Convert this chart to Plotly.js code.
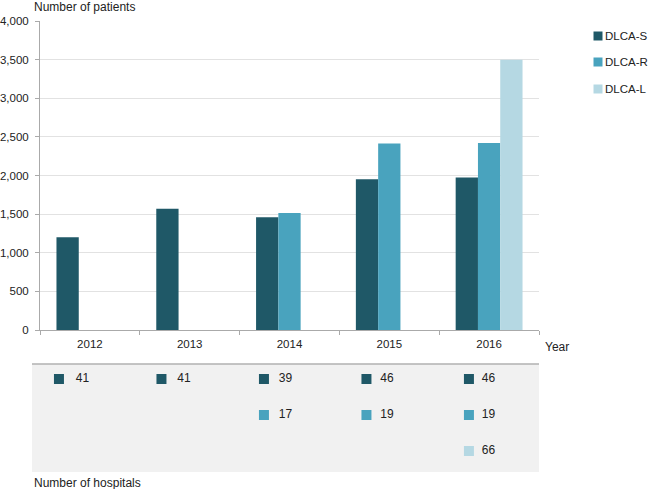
<!DOCTYPE html>
<html>
<head>
<meta charset="utf-8">
<script src="https://cdn.plot.ly/plotly-3.0.1.min.js"></script>
<style>html,body{margin:0;padding:0;background:#fff;}#chart{width:649px;height:489px;}</style>
</head>
<body>
<div id="chart"></div>
<script>
var years = ["2012", "2013", "2014", "2015", "2016"];
var seriesNames = ["DLCA-S", "DLCA-R", "DLCA-L"];
var patientsS = [1200, 1570, 1460, 1950, 1975];
var patientsR = [null, null, 1515, 2415, 2420];
var patientsL = [null, null, null, null, 3500];
var hospitalsS = [41, 41, 39, 46, 46];
var hospitalsR = [null, null, 17, 19, 19];
var hospitalsL = [null, null, null, null, 66];
var yTicks = [0, 500, 1000, 1500, 2000, 2500, 3000, 3500, 4000];

var colors = ["#1f5867", "#49a3be", "#b5d8e3"];
var FONT = "Liberation Sans, Arial, Helvetica, sans-serif";
var TXT = "#222222";

var patients = [patientsS, patientsR, patientsL];
var hospitals = [hospitalsS, hospitalsR, hospitalsL];

var traces = [];
for (var s = 0; s < 3; s++) {
  traces.push({
    type: "bar", name: seriesNames[s], x: years, y: patients[s],
    marker: {color: colors[s], line: {width: 0}},
    showlegend: false, hoverinfo: "x+y+name"
  });
}
// Table of hospitals
for (var s2 = 0; s2 < 3; s2++) {
  var mx = [], my = [], tx = [], tt = [];
  for (var i = 0; i < years.length; i++) {
    var v = hospitals[s2][i];
    if (v === null) continue;
    mx.push(i - 0.31 + 0.027 * i);
    my.push(s2 + 1);
    tx.push(i - 0.075 + 0.017 * i);
    tt.push(String(v));
  }
  traces.push({
    type: "scatter", mode: "markers", x: mx, y: my, xaxis: "x2", yaxis: "y2",
    marker: {symbol: "square", size: 10, color: colors[s2]},
    showlegend: false, hoverinfo: "skip", cliponaxis: false
  });
  traces.push({
    type: "scatter", mode: "text", x: tx, y: my, text: tt, xaxis: "x2", yaxis: "y2",
    textposition: "middle center", textfont: {family: FONT, size: 12, color: TXT},
    showlegend: false, hoverinfo: "skip", cliponaxis: false
  });
}

var H = 489, T = 21, PH = H - T;
function py(px) { return (H - px) / PH; }

var shapes = [
  {type: "rect", xref: "paper", yref: "paper", x0: -0.016, x1: 1, y0: py(472), y1: py(364),
   fillcolor: "#f1f1f1", line: {width: 0}, layer: "below"},
  {type: "line", xref: "paper", yref: "paper", x0: -0.016, x1: 1, y0: py(364), y1: py(364),
   line: {color: "#b0b0b0", width: 1.5}}
];
var annotations = [
  {text: "Number of patients", xref: "paper", yref: "paper", x: -0.016, y: py(7),
   xanchor: "left", yanchor: "middle", showarrow: false, font: {family: FONT, size: 12, color: TXT}},
  {text: "Year", xref: "paper", yref: "paper", x: 1.008, y: py(347),
   xanchor: "left", yanchor: "middle", showarrow: false, font: {family: FONT, size: 12, color: TXT}},
  {text: "Number of hospitals", xref: "paper", yref: "paper", x: -0.016, y: py(483),
   xanchor: "left", yanchor: "middle", showarrow: false, font: {family: FONT, size: 12, color: TXT}}
];
// manual legend
var legY = [36, 62, 89];
for (var k = 0; k < 3; k++) {
  var cx = (598 - 40) / 499, hw = 4.5 / 499, hh = 4.5 / PH;
  shapes.push({type: "rect", xref: "paper", yref: "paper",
    x0: cx - hw, x1: cx + hw, y0: py(legY[k]) - hh, y1: py(legY[k]) + hh,
    fillcolor: colors[k], line: {width: 0}});
  annotations.push({text: seriesNames[k], xref: "paper", yref: "paper",
    x: (603 - 40) / 499, y: py(legY[k]), xanchor: "left", yanchor: "middle",
    showarrow: false, font: {family: FONT, size: 11.5, color: TXT}});
}

var layout = {
  width: 649, height: 489,
  margin: {l: 40, r: 110, t: T, b: 0, pad: 0},
  paper_bgcolor: "#ffffff", plot_bgcolor: "rgba(0,0,0,0)",
  font: {family: FONT, size: 11.5, color: TXT},
  barmode: "group", bargap: 0.33, bargroupgap: 0,
  showlegend: false,
  xaxis: {type: "category", domain: [0, 1], anchor: "y",
    tickson: "boundaries", ticks: "outside", ticklen: 4, tickcolor: "#aaaaaa", tickwidth: 1,
    showline: true, linecolor: "#aaaaaa", linewidth: 1, showgrid: false, zeroline: false,
    ticklabelstandoff: 3, tickfont: {family: FONT, size: 11.5, color: TXT}, fixedrange: true},
  yaxis: {domain: [py(330), 1], anchor: "x", range: [0, 4000],
    tickvals: yTicks, tickformat: ",d", ticks: "outside", ticklen: 4, tickcolor: "#aaaaaa",
    showline: true, linecolor: "#aaaaaa", linewidth: 1, gridcolor: "#e2e2e2", gridwidth: 1,
    zeroline: false, ticklabelstandoff: 4, tickfont: {family: FONT, size: 11.5, color: TXT}, fixedrange: true},
  xaxis2: {domain: [0, 1], anchor: "y2", range: [-0.5, 4.5], visible: false, fixedrange: true},
  yaxis2: {domain: [0, py(364)], anchor: "x2", range: [1 + (H - 379) / 36, 1 - 15 / 36],
    visible: false, fixedrange: true},
  shapes: shapes,
  annotations: annotations
};

Plotly.newPlot("chart", traces, layout, {displayModeBar: false, staticPlot: true});
</script>
</body>
</html>
